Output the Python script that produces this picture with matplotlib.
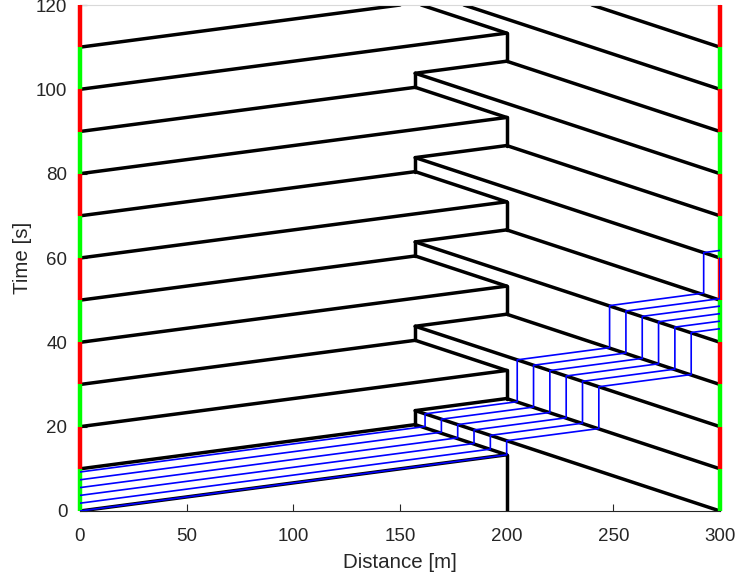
import numpy as np
import matplotlib.pyplot as plt

plt.rcParams['font.family'] = ['Liberation Sans', 'DejaVu Sans']

# signals at both ends of the road
signal_x = [0, 300]
green_start = [0, 20, 40, 60, 80, 100]
red_start = [10, 30, 50, 70, 90, 110]
phase_len = 10

# waves leaving x = 0 (start time) and where they end
fwd_t0 = [0, 10, 20, 30, 40, 50, 60, 70, 80, 90, 100, 110]
fwd_x1 = [200, 157.14, 200, 157.14, 200, 157.14, 200, 157.14, 200, 157.14, 200, 150]
fwd_t1 = [13.33, 20.48, 33.33, 40.48, 53.33, 60.48, 73.33, 80.48, 93.33, 100.48, 113.33, 120]

# waves leaving x = 300 backwards
bwd_t0 = [0, 10, 20, 30, 40, 50, 60, 70, 80, 90, 100, 110]
bwd_x1 = [157.14, 200, 157.14, 200, 157.14, 200, 157.14, 200, 157.14, 200, 180, 240]
bwd_t1 = [23.81, 26.67, 43.81, 46.67, 63.81, 66.67, 83.81, 86.67, 103.81, 106.67, 120, 120]

# queue at x = 200
q_x = 200
q_bot_t = [0, 26.67, 46.67, 66.67, 86.67, 106.67]
q_top_t = [13.33, 33.33, 53.33, 73.33, 93.33, 113.33]
# back of the queue, from top of x=200 segment
back_x1 = [157.14, 157.14, 157.14, 157.14, 157.14, 160]
back_t1 = [20.48, 40.48, 60.48, 80.48, 100.48, 120]
# tail segment at x = 157
tail_x = 157.14
tail_bot_t = [20.48, 40.48, 60.48, 80.48, 100.48]
tail_top_t = [23.81, 43.81, 63.81, 83.81, 103.81]

# vehicle trajectories (6 vehicles of the first platoon)
veh_entry_t = [0.0, 1.85, 3.7, 5.55, 7.4, 9.25]
stop1_x = [200.0, 192.35, 184.7, 177.05, 169.4, 161.75]
stop1_arr = [13.33, 14.67, 16.01, 17.35, 18.69, 20.03]
stop1_dep = [16.67, 17.94, 19.22, 20.49, 21.77, 23.04]
stop2_x = [243.2, 235.55, 227.9, 220.25, 212.6, 204.95]
stop2_arr = [19.55, 20.82, 22.1, 23.37, 24.65, 25.92]
stop2_dep = [29.47, 30.75, 32.02, 33.3, 34.57, 35.85]
stop3_x = [286.5, 278.85, 271.2, 263.55, 255.9, 248.25]
stop3_arr = [32.36, 33.64, 34.91, 36.19, 37.46, 38.74]
stop3_dep = [42.33, 43.61, 44.88, 46.16, 47.43, 48.71]
stop4_x = [np.nan, np.nan, np.nan, np.nan, 300.0, 292.35]
stop4_arr = [np.nan, np.nan, np.nan, np.nan, 50.36, 51.68]
stop4_dep = [np.nan, np.nan, np.nan, np.nan, 60.0, 61.28]
exit_t = [43.23, 45.02, 46.8, 48.59, 60.0, 61.79]

fig = plt.figure(figsize=(7.38, 5.82), dpi=100)
ax = fig.add_axes([0.1084, 0.122, 0.8672, 0.8694])

blk = dict(color='k', lw=2.5, solid_capstyle='round', zorder=2)
for t0, x1, t1 in zip(fwd_t0, fwd_x1, fwd_t1):
    ax.plot([0, x1], [t0, t1], **blk)
for t0, x1, t1 in zip(bwd_t0, bwd_x1, bwd_t1):
    ax.plot([300, x1], [t0, t1], **blk)
for b, t in zip(q_bot_t, q_top_t):
    ax.plot([q_x, q_x], [b, t], **blk)
for t0, x1, t1 in zip(q_top_t, back_x1, back_t1):
    ax.plot([q_x, x1], [t0, t1], **blk)
for b, t, nb in zip(tail_bot_t, tail_top_t, q_bot_t[1:]):
    ax.plot([tail_x, tail_x], [b, t], **blk)
    ax.plot([tail_x, q_x], [t, nb], **blk)

# signal heads
for sx in signal_x:
    for g in green_start:
        ax.plot([sx, sx], [g, g + phase_len], color=(0, 1, 0), lw=3.2,
                solid_capstyle='butt', zorder=3, clip_on=False)
    for r in red_start:
        ax.plot([sx, sx], [r, r + phase_len], color=(1, 0, 0), lw=3.2,
                solid_capstyle='butt', zorder=3, clip_on=False)

# vehicles
for i in range(len(veh_entry_t)):
    xs = [0, stop1_x[i], stop1_x[i], stop2_x[i], stop2_x[i], stop3_x[i], stop3_x[i]]
    ts = [veh_entry_t[i], stop1_arr[i], stop1_dep[i], stop2_arr[i], stop2_dep[i],
          stop3_arr[i], stop3_dep[i]]
    if not np.isnan(stop4_x[i]):
        xs += [stop4_x[i], stop4_x[i]]
        ts += [stop4_arr[i], stop4_dep[i]]
    xs.append(300)
    ts.append(exit_t[i])
    ax.plot(xs, ts, color=(0, 0, 1), lw=1.2, zorder=4)

ax.set_xlim(0, 300)
ax.set_ylim(0, 120)
ax.set_xticks(range(0, 301, 50))
ax.set_yticks(range(0, 121, 20))
ax.tick_params(direction='in', length=5, width=0.8, colors='#262626',
               labelsize=13.5)
ax.tick_params(axis='x', pad=12)
ax.tick_params(axis='y', pad=9)
for s in ['left', 'bottom', 'right']:
    ax.spines[s].set_color('#262626')
    ax.spines[s].set_linewidth(0.8)
ax.spines['top'].set_color('#d9d9d9')
ax.spines['top'].set_linewidth(0.8)

ax.set_xlabel('Distance [m]', fontsize=14.8, color='#262626', labelpad=6)
ax.set_ylabel('Time [s]', fontsize=14.8, color='#262626', labelpad=3)

fig.savefig('out.png', dpi=100)
